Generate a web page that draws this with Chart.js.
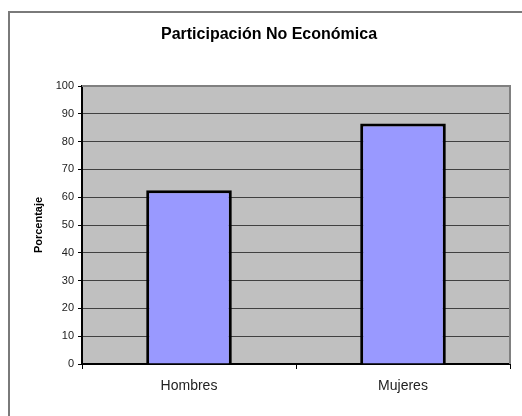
<!DOCTYPE html>
<html>
<head>
<meta charset="utf-8">
<script src="https://cdn.jsdelivr.net/npm/chart.js@4"></script>
<style>
  html, body { margin: 0; padding: 0; background: #ffffff; }
  #wrap { position: relative; width: 522px; height: 416px; overflow: hidden; }
  #frame { position: absolute; left: 8px; top: 11px; width: 600px; height: 500px;
           border-left: 2px solid #7a7a7a; border-top: 2px solid #7a7a7a; box-sizing: border-box; }
  canvas { position: absolute; left: 0; top: 0; }
</style>
</head>
<body>
<div id="wrap">
  <div id="frame"></div>
  <canvas id="c" width="522" height="416"></canvas>
</div>
<script>
const chartTitle = "Participación No Económica";
const yAxisTitle = "Porcentaje";
const categories = ["Hombres", "Mujeres"];
const values = [62.5, 86.5];
const yTicks = [0, 10, 20, 30, 40, 50, 60, 70, 80, 90, 100];

const plotBg = {
  id: 'plotBg',
  beforeDraw(chart) {
    const { ctx, chartArea: a } = chart;
    ctx.save();
    ctx.fillStyle = '#c0c0c0';
    ctx.fillRect(a.left, a.top, a.right - a.left, a.bottom - a.top);
    ctx.restore();
  },
  afterDatasetsDraw(chart) {
    const { ctx, chartArea: a } = chart;
    ctx.save();
    ctx.strokeStyle = '#808080';
    ctx.lineWidth = 2;
    ctx.beginPath();
    ctx.moveTo(a.left, a.top);
    ctx.lineTo(a.right, a.top);
    ctx.lineTo(a.right, a.bottom);
    ctx.stroke();
    ctx.restore();
  }
};

new Chart(document.getElementById('c'), {
  type: 'bar',
  data: {
    labels: categories,
    datasets: [{
      data: values,
      backgroundColor: '#9999ff',
      borderColor: '#000000',
      borderWidth: 3,
      barPercentage: 0.4,
      categoryPercentage: 1.0
    }]
  },
  options: {
    responsive: false,
    animation: false,
    devicePixelRatio: 1,
    layout: { padding: { left: 28, right: 12, top: 0, bottom: 0 } },
    plugins: {
      legend: { display: false },
      tooltip: { enabled: false },
      title: {
        display: true,
        text: chartTitle,
        color: '#000000',
        font: { family: 'Liberation Sans, Arial, sans-serif', size: 16, weight: 'bold' },
        padding: { top: 24.5, bottom: 42.3 }
      }
    },
    scales: {
      x: {
        grid: { offset: true, drawOnChartArea: false, drawTicks: true, tickLength: 5, tickColor: '#000000', lineWidth: 1 },
        border: { display: true, color: '#000000', width: 2 },
        ticks: {
          color: '#222222',
          padding: 9,
          font: { family: 'Liberation Sans, Arial, sans-serif', size: 14 }
        },
        afterFit(scale) { scale.height = 52; }
      },
      y: {
        min: 0,
        max: 100,
        afterBuildTicks(scale) { scale.ticks = yTicks.map(v => ({ value: v })); },
        grid: { color: '#404040', lineWidth: 1, drawTicks: true, tickLength: 4, tickColor: '#000000' },
        border: { display: true, color: '#000000', width: 2 },
        ticks: {
          color: '#222222',
          padding: 4,
          font: { family: 'Liberation Sans, Arial, sans-serif', size: 11 }
        },
        title: {
          display: true,
          text: yAxisTitle,
          color: '#000000',
          padding: { top: 4, bottom: 0 },
          font: { family: 'Liberation Sans, Arial, sans-serif', size: 11, weight: 'bold' }
        },
        afterFit(scale) { scale.width = 54; }
      }
    }
  },
  plugins: [plotBg]
});
</script>
</body>
</html>
